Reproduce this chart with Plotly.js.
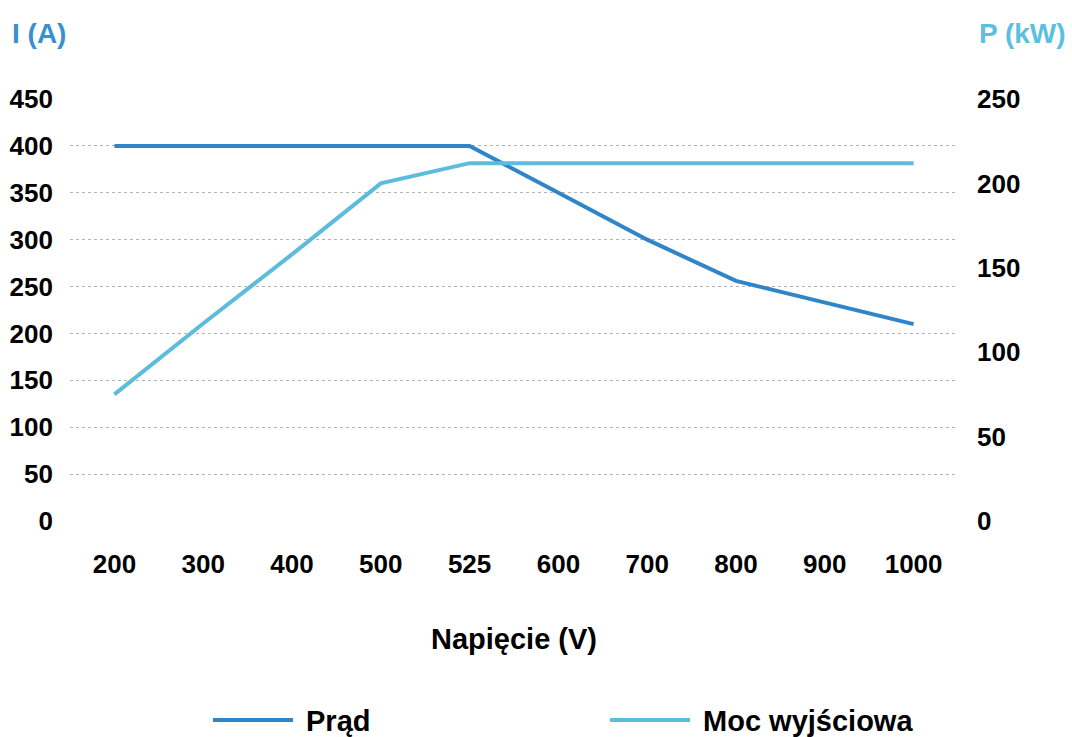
<!DOCTYPE html>
<html>
<head>
<meta charset="utf-8">
<script src="https://cdn.plot.ly/plotly-3.0.1.min.js"></script>
<style>
html,body{margin:0;padding:0;background:#fff;}
#chart{width:1072px;height:737px;}
</style>
</head>
<body>
<div id="chart"></div>
<script>
// Data
var voltage = ['200', '300', '400', '500', '525', '600', '700', '800', '900', '1000'];
var current = [400, 400, 400, 400, 400, 350, 300, 256, 233, 210];
var power = [75, 117, 158, 200, 212, 212, 212, 212, 212, 212];
var currentTicks = [0, 50, 100, 150, 200, 250, 300, 350, 400, 450];
var powerTicks = [0, 50, 100, 150, 200, 250];

var FONT = 'Liberation Sans, Arial, Helvetica, sans-serif';
var C_CURRENT = '#2f85c8';
var C_POWER = '#5bbcdb';
var TICKFONT = {family: FONT, size: 26, color: '#000', weight: 'bold'};

var traces = [
  {
    x: voltage, y: current, name: '\u00a0Prąd', type: 'scatter', mode: 'lines',
    line: {color: C_CURRENT, width: 4}, yaxis: 'y', hoverinfo: 'x+y'
  },
  {
    x: voltage, y: power, name: '\u00a0Moc wyjściowa', type: 'scatter', mode: 'lines',
    line: {color: C_POWER, width: 4}, yaxis: 'y2', hoverinfo: 'x+y'
  }
];

var layout = {
  width: 1072, height: 737,
  margin: {l: 70, r: 114, t: 99, b: 216},
  paper_bgcolor: '#ffffff', plot_bgcolor: '#ffffff',
  font: {family: FONT, size: 26, color: '#000', weight: 'bold'},
  showlegend: true,
  legend: {
    orientation: 'h', xref: 'container', yref: 'container',
    x: 0.194, xanchor: 'left', y: 0.023, yanchor: 'middle',
    font: {family: FONT, size: 29, color: '#000', weight: 'bold'},
    entrywidth: 302, entrywidthmode: 'pixels', itemwidth: 80,
    bgcolor: 'rgba(0,0,0,0)'
  },
  xaxis: {
    type: 'category', range: [-0.5, 9.5], showgrid: false, zeroline: false, showline: false,
    ticks: '', ticklabelstandoff: 25,
    tickfont: TICKFONT,
    title: {text: 'Napięcie (V)', standoff: 50, font: {family: FONT, size: 29, color: '#000', weight: 'bold'}}
  },
  yaxis: {
    range: [0, 450], tickmode: 'array', tickvals: currentTicks,
    showgrid: true, gridcolor: '#b3b3b3', gridwidth: 1, griddash: '3px,3px',
    zeroline: false, showline: false, ticks: '', ticklabelstandoff: 16,
    tickfont: TICKFONT
  },
  yaxis2: {
    range: [0, 250], tickmode: 'array', tickvals: powerTicks,
    overlaying: 'y', side: 'right', showgrid: false, zeroline: false,
    showline: false, ticks: '', ticklabelstandoff: 18,
    tickfont: TICKFONT
  },
  annotations: [
    {text: 'I (A)', xref: 'paper', yref: 'paper', x: -0.0676, y: 1.156, xanchor: 'left', yanchor: 'middle',
     showarrow: false, font: {family: FONT, size: 28, color: '#3a8fd0', weight: 'bold'}},
    {text: 'P (kW)', xref: 'paper', yref: 'paper', x: 1.1239, y: 1.156, xanchor: 'right', yanchor: 'middle',
     showarrow: false, font: {family: FONT, size: 28, color: '#5bbfdf', weight: 'bold'}}
  ]
};

Plotly.newPlot('chart', traces, layout, {displayModeBar: false, staticPlot: true});
</script>
</body>
</html>
